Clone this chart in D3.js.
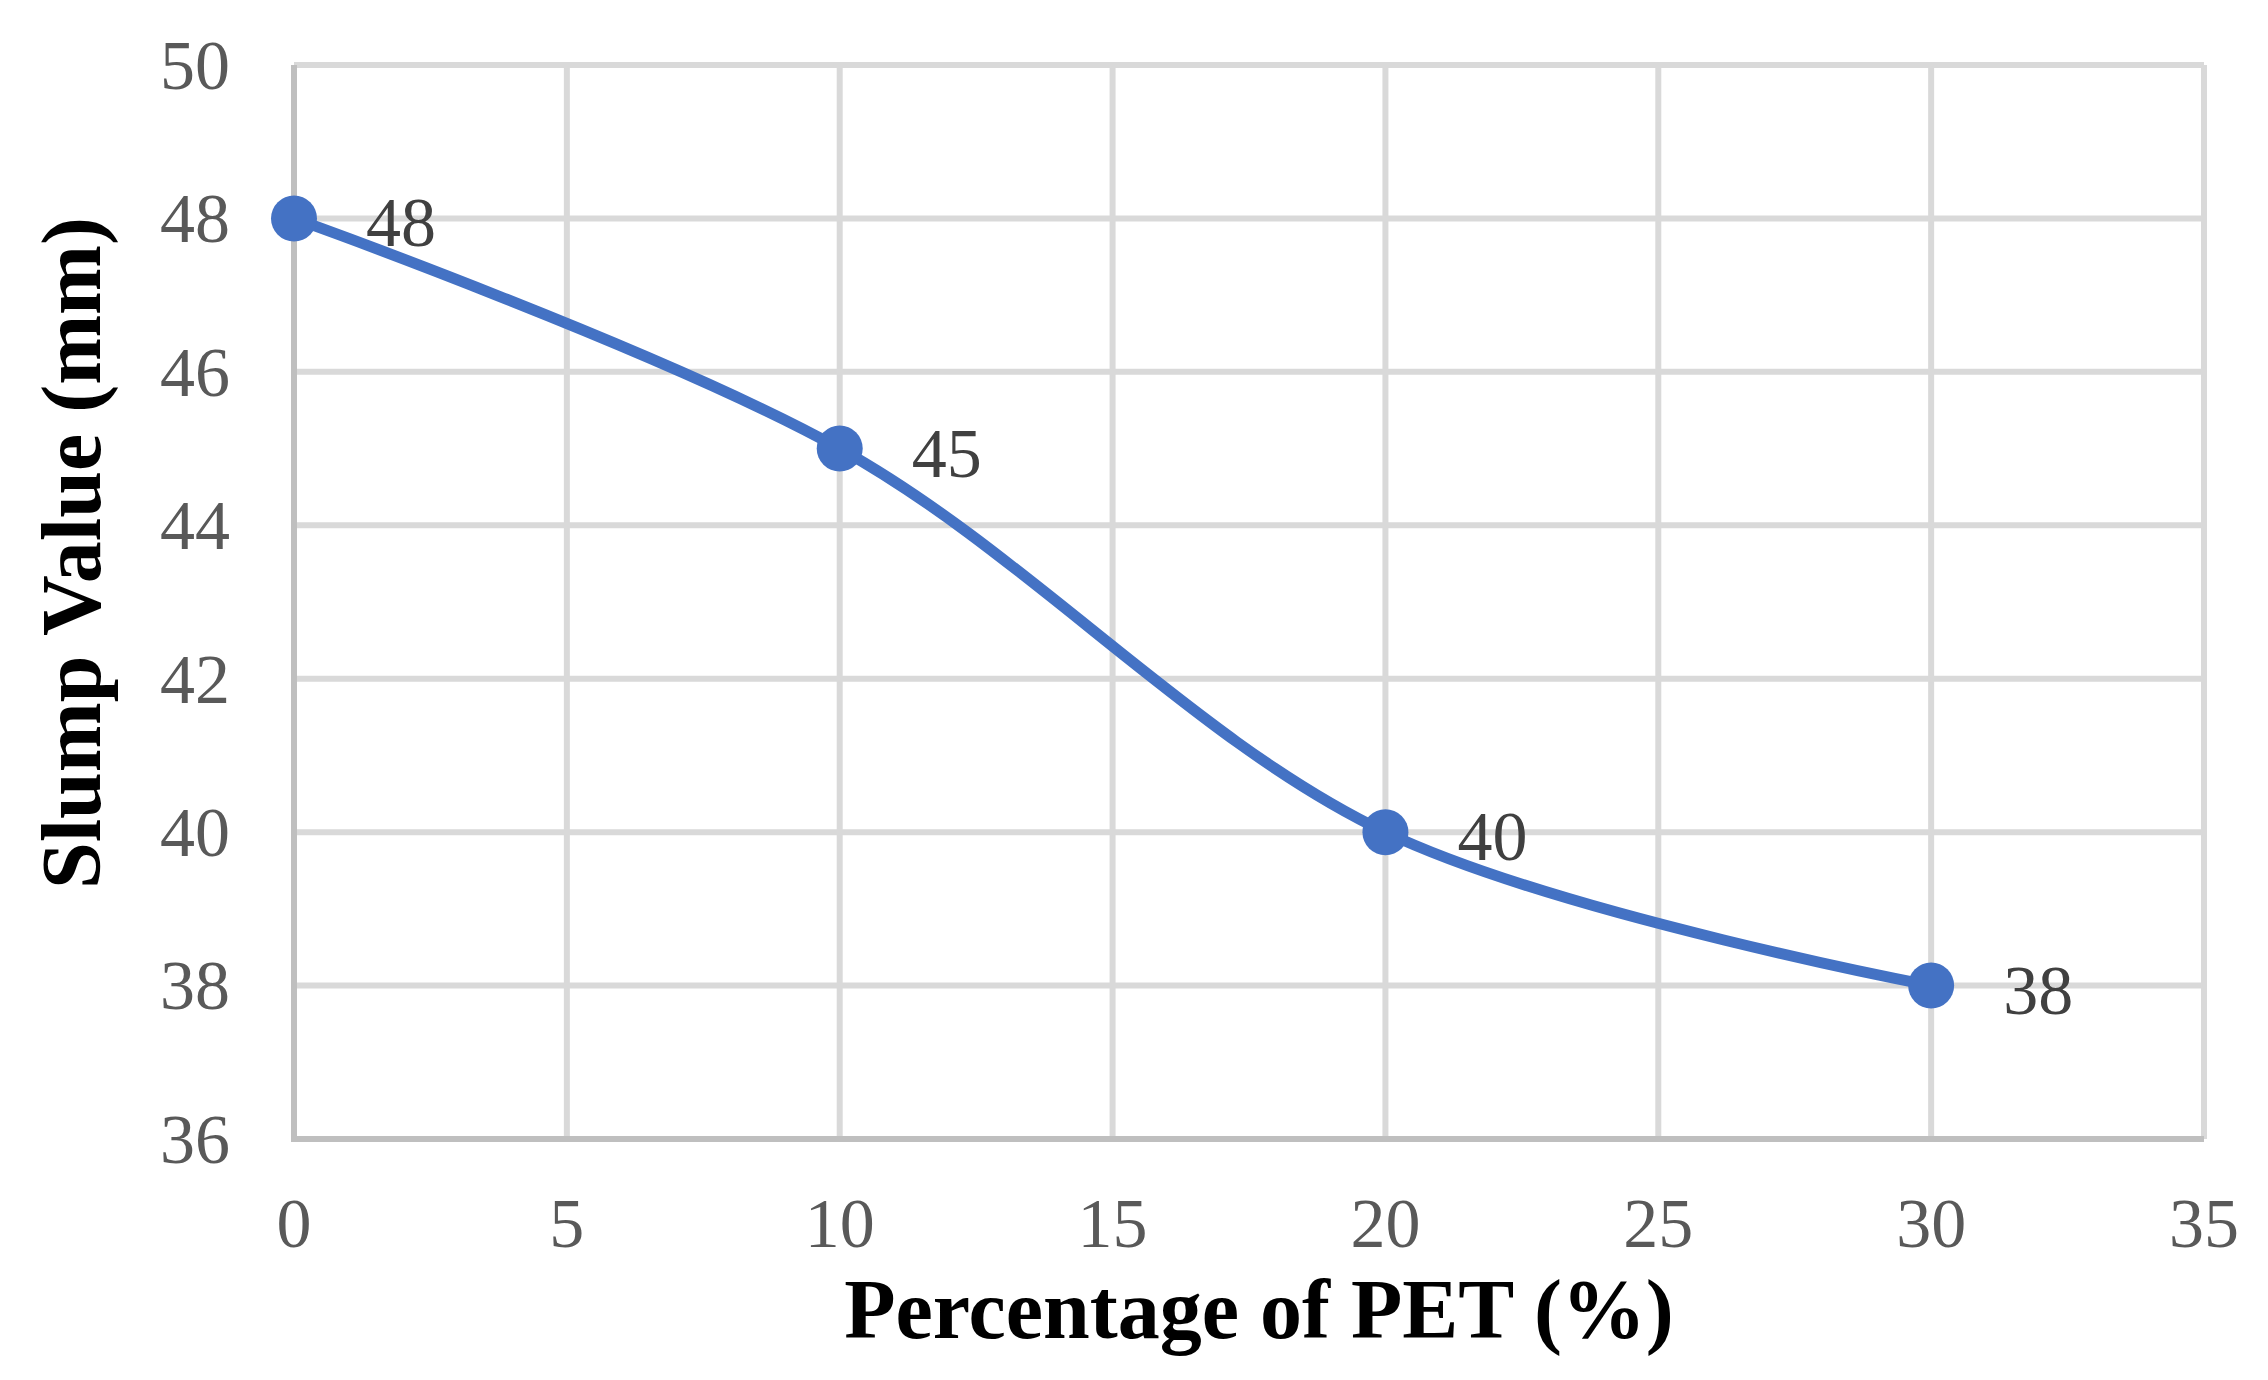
<!DOCTYPE html>
<html>
<head>
<meta charset="utf-8">
<script src="https://cdn.jsdelivr.net/npm/d3@7"></script>
<style>
  html, body { margin: 0; padding: 0; background: #fff; }
  svg text { font-family: "Liberation Serif", "Times New Roman", serif; }
</style>
</head>
<body>
<div id="chart"></div>
<script>
/* data */
var pet = [0, 10, 20, 30];
var slump = [48, 45, 40, 38];
var xTicks = [0, 5, 10, 15, 20, 25, 30, 35];
var yTicks = [36, 38, 40, 42, 44, 46, 48, 50];
var xTitle = "Percentage of PET (%)";
var yTitle = "Slump Value (mm)";

var width = 2268, height = 1380;
var margin = {left: 294, right: 64, top: 65, bottom: 241};

var svg = d3.select("#chart").append("svg")
	.attr("width", width).attr("height", height);

var x = d3.scaleLinear().domain([0, 35]).range([margin.left, width - margin.right]);
var y = d3.scaleLinear().domain([36, 50]).range([height - margin.bottom, margin.top]);

/* grid */
var grid = svg.append("g");
grid.selectAll(".hg").data(yTicks.filter(function(d){ return d > 36; }))
	.enter().append("line")
	.attr("x1", x(0)).attr("x2", x(35))
	.attr("y1", function(d){ return y(d); }).attr("y2", function(d){ return y(d); })
	.attr("stroke", "#d9d9d9").attr("stroke-width", 6);
grid.selectAll(".vg").data(xTicks.filter(function(d){ return d > 0; }))
	.enter().append("line")
	.attr("y1", y(36)).attr("y2", y(50))
	.attr("x1", function(d){ return x(d); }).attr("x2", function(d){ return x(d); })
	.attr("stroke", "#d9d9d9").attr("stroke-width", 6);

/* axes lines */
svg.append("line").attr("x1", x(0)).attr("x2", x(0)).attr("y1", y(50)).attr("y2", y(36) + 3)
	.attr("stroke", "#bfbfbf").attr("stroke-width", 6);
svg.append("line").attr("x1", x(0) - 3).attr("x2", x(35)).attr("y1", y(36)).attr("y2", y(36))
	.attr("stroke", "#bfbfbf").attr("stroke-width", 6);

/* tick labels */
svg.append("g").selectAll("text").data(yTicks).enter().append("text")
	.attr("x", x(0) - 64)
	.attr("y", function(d){ return y(d); })
	.attr("dy", "0.34em")
	.attr("text-anchor", "end")
	.attr("font-size", 70)
	.attr("fill", "#595959")
	.text(function(d){ return d; });

svg.append("g").selectAll("text").data(xTicks).enter().append("text")
	.attr("x", function(d){ return x(d); })
	.attr("y", y(36) + 108)
	.attr("text-anchor", "middle")
	.attr("font-size", 70)
	.attr("fill", "#595959")
	.text(function(d){ return d; });

/* titles */
svg.append("text")
	.attr("x", (x(0) + x(35)) / 2 + 10)
	.attr("y", 1338)
	.attr("text-anchor", "middle")
	.attr("font-size", 84)
	.attr("font-weight", "bold")
	.text(xTitle);

svg.append("text")
	.attr("transform", "translate(100," + 553 + ") rotate(-90)")
	.attr("text-anchor", "middle")
	.attr("font-size", 84)
	.attr("font-weight", "bold")
	.text(yTitle);

/* series */
var pts = pet.map(function(d, i){ return [d, slump[i]]; });
var line = d3.line()
	.x(function(d){ return x(d[0]); })
	.y(function(d){ return y(d[1]); })
	.curve(d3.curveCatmullRom.alpha(0.5));

svg.append("path").datum(pts)
	.attr("d", line)
	.attr("fill", "none")
	.attr("stroke", "#4472c4")
	.attr("stroke-width", 11)
	.attr("stroke-linecap", "round");

svg.append("g").selectAll("circle").data(pts).enter().append("circle")
	.attr("cx", function(d){ return x(d[0]); })
	.attr("cy", function(d){ return y(d[1]); })
	.attr("r", 23)
	.attr("fill", "#4472c4");

svg.append("g").selectAll("text").data(pts).enter().append("text")
	.attr("x", function(d){ return x(d[0]) + 72; })
	.attr("y", function(d){ return y(d[1]); })
	.attr("dy", "0.4em")
	.attr("font-size", 70)
	.attr("fill", "#404040")
	.text(function(d){ return d[1]; });
</script>
</body>
</html>
